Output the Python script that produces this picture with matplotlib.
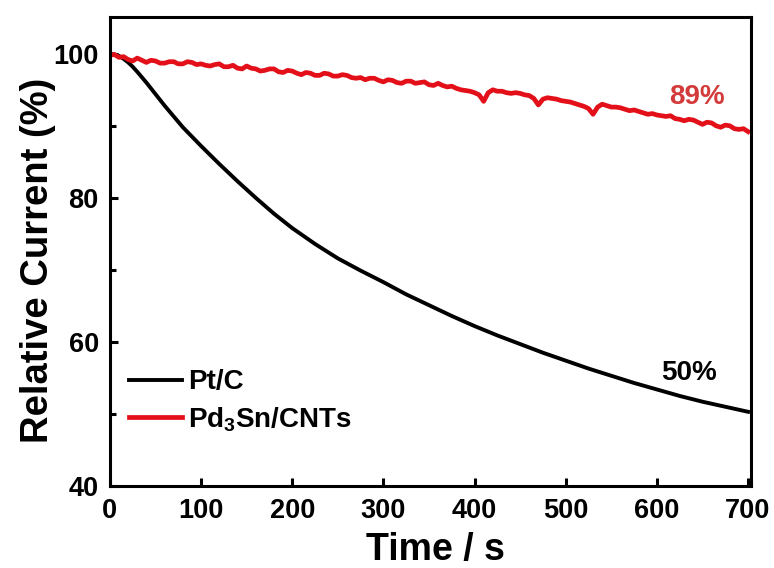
import matplotlib
matplotlib.use("Agg")
import matplotlib.pyplot as plt
from matplotlib.ticker import MultipleLocator

## data
time_ptc = [0, 5, 10, 15, 20, 25, 30, 40, 50, 60, 70, 80, 90, 100, 120, 140,
            160, 180, 200, 225, 250, 275, 300, 325, 350, 375, 400, 425, 450,
            475, 500, 525, 550, 575, 600, 625, 650, 675, 700]
current_ptc = [100.0, 99.9, 99.7, 99.3, 98.8, 98.2, 97.5, 96.0, 94.4, 92.8,
               91.3, 89.8, 88.5, 87.2, 84.7, 82.3, 80.0, 77.8, 75.8, 73.6,
               71.6, 69.9, 68.3, 66.6, 65.1, 63.6, 62.2, 60.9, 59.7, 58.5,
               57.4, 56.3, 55.3, 54.3, 53.4, 52.5, 51.7, 51.0, 50.3]

time_pdsn = list(range(0, 701, 5))
current_pdsn = [
    99.8, 99.9, 99.5, 99.6, 99.2, 99.0, 99.4, 99.1, 98.8, 99.1,
    99.0, 98.7, 98.7, 98.9, 98.9, 98.6, 98.6, 98.9, 98.8, 98.5,
    98.6, 98.4, 98.3, 98.5, 98.6, 98.2, 98.2, 98.4, 98.0, 97.9,
    98.3, 98.0, 97.9, 97.6, 97.7, 97.9, 97.9, 97.5, 97.4, 97.7,
    97.6, 97.3, 97.1, 97.4, 97.3, 97.0, 97.0, 97.3, 97.2, 96.9,
    96.9, 97.1, 97.0, 96.7, 96.6, 96.7, 96.4, 96.6, 96.6, 96.3,
    96.1, 96.4, 96.3, 96.0, 95.9, 96.2, 96.2, 95.9, 96.0, 96.1,
    95.7, 95.6, 95.9, 95.6, 95.4, 95.5, 95.2, 95.0, 94.9, 94.8,
    94.6, 94.3, 93.4, 94.6, 95.0, 94.8, 94.8, 94.6, 94.5, 94.6,
    94.5, 94.3, 94.2, 93.8, 92.9, 93.7, 93.9, 93.8, 93.7, 93.5,
    93.4, 93.3, 93.1, 92.9, 92.7, 92.4, 91.6, 92.6, 93.0, 92.8,
    92.6, 92.6, 92.5, 92.3, 92.1, 92.2, 92.0, 91.8, 91.6, 91.7,
    91.5, 91.4, 91.3, 91.4, 91.0, 90.9, 90.7, 90.9, 90.8, 90.5,
    90.2, 90.5, 90.4, 90.0, 89.8, 90.1, 90.0, 89.6, 89.5, 89.6,
    89.2,
]

labels = ["Pt/C", "Pd$_3$Sn/CNTs"]
xticks = [0, 100, 200, 300, 400, 500, 600, 700]
yticks = [40, 60, 80, 100]

plt.rcParams.update({
    "font.family": "Liberation Sans",
    "font.weight": "bold",
    "mathtext.fontset": "custom",
    "mathtext.rm": "Liberation Sans:bold",
    "mathtext.default": "rm",
})

fig = plt.figure(figsize=(7.74, 5.68), dpi=100)
ax = fig.add_axes([0.142, 0.1444, 0.828, 0.8256])

ax.plot(time_ptc, current_ptc, color="black", lw=2.8, label=labels[0],
        solid_joinstyle="round")
ax.plot(time_pdsn, current_pdsn, color="#e3101a", lw=3.4, label=labels[1],
        solid_joinstyle="round")

ax.set_xlim(0, 703)
ax.set_ylim(40, 105.1)
ax.set_xticks(xticks)
ax.set_yticks(yticks)
ax.yaxis.set_minor_locator(MultipleLocator(10))

for sp in ax.spines.values():
    sp.set_linewidth(2.2)
ax.tick_params(axis="both", which="major", direction="in", length=6, width=2.2,
               labelsize=19.5)
ax.tick_params(axis="x", which="major", pad=8.5)
ax.tick_params(axis="y", which="major", pad=8)
ax.tick_params(axis="y", which="minor", direction="in", length=4, width=2.2)
for lab in ax.get_xticklabels() + ax.get_yticklabels():
    lab.set_fontweight("bold")

ax.set_xlabel("Time / s", fontsize=27, fontweight="bold")
ax.set_ylabel("Relative Current (%)", fontsize=27.5, fontweight="bold")
ax.xaxis.set_label_coords(0.508, -0.098)
ax.yaxis.set_label_coords(-0.084, 0.482)

ax.text(635, 55.7, "50%", fontsize=20, fontweight="bold", ha="center", va="center")
ax.text(644, 94.0, "89%", fontsize=20, fontweight="bold", ha="center", va="center",
        color="#d33a3a")

leg = ax.legend(loc="lower left", bbox_to_anchor=(0.0, 0.07), frameon=False,
                fontsize=20, handlelength=1.9, handletextpad=0.2, labelspacing=0.35,
                borderaxespad=0.3)
for t in leg.get_texts():
    t.set_fontweight("bold")

fig.savefig("out.png", dpi=100)
